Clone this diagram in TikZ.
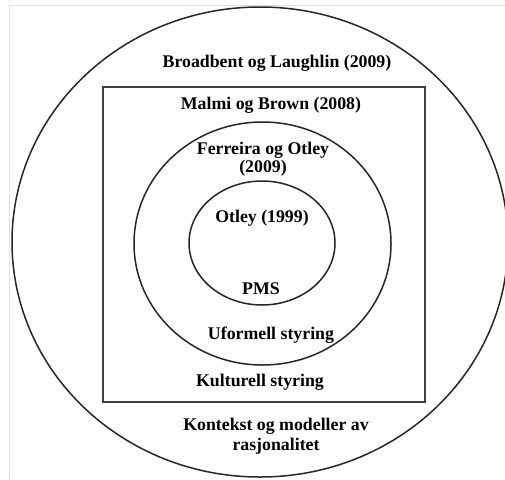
\documentclass[tikz,border=0pt]{standalone}
\usepackage{fontspec}
\setmainfont{Liberation Serif}
\begin{document}
\begin{tikzpicture}[x=1pt,y=-1pt,
  ring/.style={draw=black!85,line width=1.5pt},
  frame/.style={draw=black!75,line width=1.9pt},
  lbl/.style={font=\bfseries\fontsize{17.8}{18}\selectfont,align=center,inner sep=0pt}]
\useasboundingbox (0,0) rectangle (505,479);
% faint scan border
\draw[black!12,line width=0.8pt] (9,479) -- (9,5) -- (505,5);
% nested shapes
\draw[ring] (260,242) ellipse [x radius=248,y radius=235];
\draw[frame] (103,87) rectangle (425,402);
\draw[ring] (262.5,243.5) ellipse [x radius=128.5,y radius=121.5];
\draw[ring] (262,243) ellipse [x radius=73,y radius=62];
% labels
\node[lbl] (bl) at (277,63) {Broadbent og Laughlin (2009)};
\node[lbl] (mb) at (271,105) {Malmi og Brown (2008)};
\node[lbl] (fo) at (263,159) {Ferreira og Otley\\(2009)};
\node[lbl] (ot) at (262,218) {Otley (1999)};
\node[lbl] (pms) at (261,289) {PMS};
\node[lbl] (uf) at (271,335) {Uformell styring};
\node[lbl] (ku) at (260,382) {Kulturell styring};
\node[lbl] (ko) at (276,436) {Kontekst og modeller av\\[2pt]rasjonalitet};
\end{tikzpicture}
\end{document}
